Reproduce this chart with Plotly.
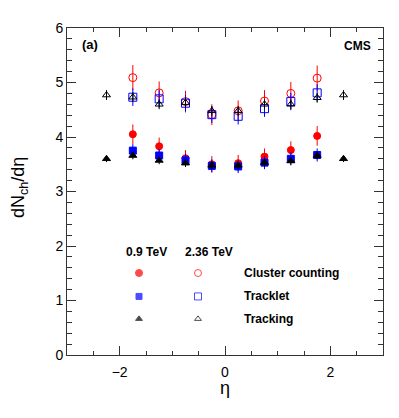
import plotly.graph_objects as go

# pseudorapidity bins
eta = [-2.25, -1.75, -1.25, -0.75, -0.25, 0.25, 0.75, 1.25, 1.75, 2.25]
eta_in = eta[1:-1]

# 0.9 TeV
clus_09 = [4.05, 3.83, 3.61, 3.50, 3.52, 3.64, 3.76, 4.02]
clus_09_err = [0.18, 0.16, 0.15, 0.15, 0.15, 0.15, 0.16, 0.18]
trkl_09 = [3.75, 3.66, 3.57, 3.47, 3.46, 3.53, 3.60, 3.67]
trkl_09_err = [0.12, 0.12, 0.12, 0.12, 0.12, 0.12, 0.12, 0.12]
trk_09 = [3.60, 3.66, 3.57, 3.52, 3.48, 3.48, 3.53, 3.56, 3.66, 3.60]
trk_09_err = [0.06, 0.07, 0.07, 0.07, 0.07, 0.07, 0.07, 0.07, 0.07, 0.06]

# 2.36 TeV
clus_236 = [5.09, 4.81, 4.65, 4.41, 4.48, 4.66, 4.80, 5.08]
clus_236_err = [0.23, 0.21, 0.20, 0.19, 0.19, 0.20, 0.21, 0.23]
trkl_236 = [4.73, 4.70, 4.62, 4.41, 4.38, 4.52, 4.65, 4.81]
trkl_236_err = [0.16, 0.16, 0.15, 0.15, 0.15, 0.15, 0.16, 0.16]
trk_236 = [4.77, 4.73, 4.60, 4.63, 4.48, 4.48, 4.60, 4.60, 4.72, 4.77]
trk_236_err = [0.09, 0.09, 0.09, 0.09, 0.09, 0.09, 0.09, 0.09, 0.09, 0.09]

legend_labels = ["Cluster counting", "Tracklet", "Tracking"]
energy_labels = ["0.9 TeV", "2.36 TeV"]

RED = "#ff0000"
BLUE = "#0000ff"
BLACK = "#000000"
FONT = "Liberation Sans"


def series(x, y, err, color, symbol, size):
    return go.Scatter(
        x=x, y=y, mode="markers",
        marker=dict(color=color, symbol=symbol, size=size,
                    line=dict(color=color, width=1)),
        error_y=dict(type="data", array=err, color=color, thickness=1, width=0),
        showlegend=False, hoverinfo="x+y",
    )


traces = [
    series(eta_in, clus_236, clus_236_err, RED, "circle-open", 8),
    series(eta_in, trkl_236, trkl_236_err, BLUE, "square-open", 8),
    series(eta, trk_236, trk_236_err, BLACK, "triangle-up-open", 7),
    series(eta_in, clus_09, clus_09_err, RED, "circle", 7),
    series(eta_in, trkl_09, trkl_09_err, BLUE, "square", 7),
    series(eta, trk_09, trk_09_err, BLACK, "triangle-up", 7),
]

fig = go.Figure(data=traces)


# legend key lives on a hidden 0..1 overlay; positions given in page pixels
def px(xp):
    return (xp - 67) / 316


def py(yp):
    return (355 - yp) / 335


rows_y = [271, 295, 318]
key = [
    (["circle", "square", "triangle-up"], 139, [RED, BLUE, BLACK], [7, 6, 6]),
    (["circle-open", "square-open", "triangle-up-open"], 198, [RED, BLUE, BLACK], [7, 7, 6]),
]
for symbols, xp, colors, sizes in key:
    fig.add_trace(go.Scatter(
        x=[px(xp)] * 3, y=[py(v) for v in rows_y], xaxis="x2", yaxis="y2",
        mode="markers",
        marker=dict(symbol=symbols, color=colors, size=sizes, line=dict(color=colors, width=1)),
        showlegend=False, hoverinfo="skip",
    ))

axis_common = dict(
    showline=True, linecolor="#333333", linewidth=1, mirror="ticks",
    ticks="inside", tickcolor="#333333", showgrid=False, zeroline=False,
    tickfont=dict(family=FONT, size=14, color="black"),
)

fig.update_xaxes(range=[-3, 3], dtick=2, ticklen=9, ticklabelstandoff=4,
                 minor=dict(dtick=0.5, ticklen=4, ticks="inside", tickcolor="#333333"),
                 **axis_common)
fig.update_yaxes(range=[0, 6], dtick=1, ticklen=9,
                 minor=dict(dtick=0.2, ticklen=5, ticks="inside", tickcolor="#333333"),
                 **axis_common)

ann = []
ann.append(dict(text="dN<sub>ch</sub>/dη", x=px(19), y=py(184), xref="paper", yref="paper",
                xanchor="center", yanchor="middle",
                textangle=-90, showarrow=False, font=dict(family=FONT, size=18, color="black")))
ann.append(dict(text="η", x=0.5, y=py(389), xref="paper", yref="paper",
                xanchor="center", yanchor="middle",
                showarrow=False, font=dict(family=FONT, size=18, color="black")))
ann.append(dict(text="<b>(a)</b>", x=px(80), y=py(37), xref="paper", yref="paper",
                xanchor="left", yanchor="middle",
                showarrow=False, font=dict(family=FONT, size=13, color="black")))
ann.append(dict(text="<b>CMS</b>", x=px(373), y=py(38), xref="paper", yref="paper",
                xanchor="right", yanchor="middle",
                showarrow=False, font=dict(family=FONT, size=12, color="black")))

for lab, xp in zip(energy_labels, [146, 209]):
    ann.append(dict(text="<b>" + lab + "</b>", x=px(xp), y=py(249), xref="paper", yref="paper",
                    xanchor="center", yanchor="middle",
                    showarrow=False, font=dict(family=FONT, size=12, color="black")))
for lab, yp in zip(legend_labels, rows_y):
    ann.append(dict(text="<b>" + lab + "</b>", x=px(242), y=py(yp), xref="paper", yref="paper",
                    xanchor="left", yanchor="middle",
                    showarrow=False, font=dict(family=FONT, size=12, color="black")))

fig.update_layout(
    width=399, height=418,
    # page body adds an 8px offset, so the frame is placed 8px up/left
    margin=dict(l=59, r=24, t=12, b=71),
    paper_bgcolor="white", plot_bgcolor="white",
    xaxis2=dict(range=[0, 1], overlaying="x", visible=False),
    yaxis2=dict(range=[0, 1], overlaying="y", visible=False),
    annotations=ann,
    showlegend=False,
)

fig.write_html("out.html")
